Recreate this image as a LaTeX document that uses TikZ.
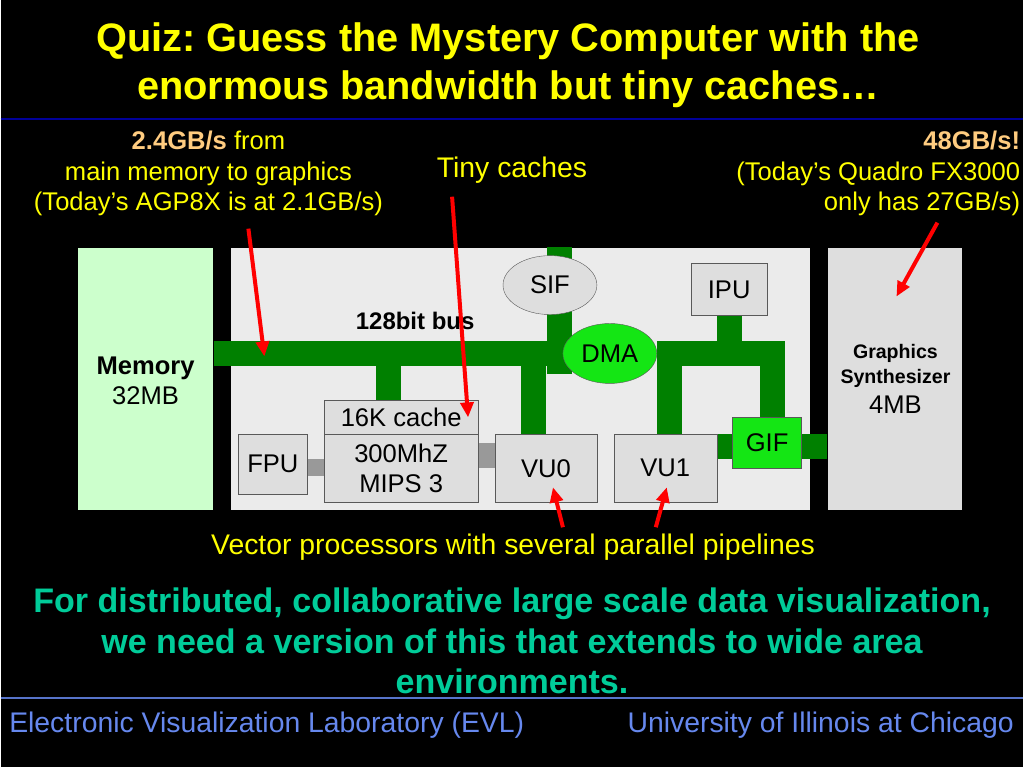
\documentclass[tikz,border=0pt]{standalone}
\usepackage{fontspec}
\setmainfont{Liberation Sans}
\usetikzlibrary{arrows.meta, shapes.geometric}
\frenchspacing

\definecolor{quizY}{RGB}{255,255,0}
\definecolor{rateO}{RGB}{255,204,128}
\definecolor{noteT}{RGB}{0,204,153}
\definecolor{footB}{RGB}{102,136,238}
\definecolor{busG}{RGB}{0,128,0}
\definecolor{unitG}{RGB}{20,230,20}
\definecolor{memG}{RGB}{204,255,204}

\pgfdeclarelayer{back}
\pgfdeclarelayer{wire}
\pgfsetlayers{back,wire,main}

\tikzstyle{panel}=[rectangle, inner sep=0pt, align=center, minimum height=263pt]
\tikzstyle{unit}=[rectangle, draw=black!65, fill=black!13, inner sep=0pt, font=\fontsize{25.6}{29}\selectfont]
\tikzstyle{blob}=[ellipse, draw=black!65, fill=black!13, inner sep=0pt, minimum width=94pt, font=\fontsize{25.6}{29}\selectfont]
\tikzstyle{bus}=[busG, line width=25pt, line join=miter]
\tikzstyle{link}=[black!40, line width=25pt]
\tikzstyle{pointer}=[red, line width=4pt, -{Triangle[length=15pt, width=13pt]}]
\tikzstyle{note}=[quizY, inner sep=0pt, font=\fontsize{25.6}{30.5}\selectfont]
\tikzstyle{bignote}=[quizY, inner sep=0pt, font=\fontsize{28.4}{32}\selectfont]

\begin{document}
\begin{tikzpicture}[x=1pt, y=-1pt]
	% Memory, chip and graphics synthesizer on the slide background
	\begin{pgfonlayer}{back}
		\fill[black] (0,0) rectangle (1024,768);
		\node[panel, fill=memG, minimum width=136pt] (mem) at (145,379.5) {};
		\node[panel, fill=black!8, minimum width=579pt] (chip) at (520.5,379.5) {};
		\node[panel, fill=black!13, minimum width=135pt] (gs) at (895.5,379.5) {};
	\end{pgfonlayer}
	\draw[blue!60!black, line width=1.5pt] (0,119) -- (1024,119);
	\draw[footB!85!black, line width=1.5pt] (0,699) -- (1024,699);

	\node[quizY, align=center, font=\bfseries\fontsize{39.8}{48}\selectfont] (title) at (508,65)
		{Quiz: Guess the Mystery Computer with the\\enormous bandwidth but tiny caches…};

	% Annotations
	\node[note, align=center] (agp) at (208,174)
		{\textbf{\textcolor{rateO}{2.4GB/s}} from\\main memory to graphics\\(Today’s AGP8X is at 2.1GB/s)};
	\node[bignote] (tiny) at (512,170) {Tiny caches};
	\node[note, align=right, anchor=east] (quadro) at (1021,174)
		{\textbf{\textcolor{rateO}{48GB/s!}}\\(Today’s Quadro FX3000\\only has 27GB/s)};

	\node[align=center, font=\fontsize{25.6}{30}\selectfont] (memlabel) at (145,381) {\textbf{Memory}\\32MB};
	\node[align=center, font=\bfseries\fontsize{19.6}{25}\selectfont] (gslabel) at (896,366) {Graphics\\Synthesizer};
	\node[font=\fontsize{25.6}{30}\selectfont] (gssize) at (896,405) {4MB};

	% Units on the chip
	\node[blob, minimum height=59pt] (sif) at (550,285.5) {SIF};
	\node[blob, minimum height=60pt, fill=unitG] (dma) at (610,354) {DMA};
	\node[unit, minimum width=77pt, minimum height=52pt] (ipu) at (729.5,290) {IPU};
	\node[unit, minimum width=154pt, minimum height=34pt] (cache) at (401,418) {16K cache};
	\node[unit, minimum width=154pt, minimum height=68pt, align=center, font=\fontsize{25.6}{30}\selectfont] (mips) at (401,469) {300MhZ\\MIPS 3};
	\node[unit, minimum width=69pt, minimum height=60pt] (fpu) at (272.5,465) {FPU};
	\node[unit, minimum width=102pt, minimum height=68pt] (vu0) at (546,469) {VU0};
	\node[unit, minimum width=103pt, minimum height=68pt] (vu1) at (665.5,469) {VU1};
	\node[unit, minimum width=69pt, minimum height=51pt, fill=unitG] (gif) at (767.5,443.5) {GIF};
	\node[font=\bfseries\fontsize{24}{28}\selectfont] (buslabel) at (415,321) {128bit bus};

	% Buses
	\begin{pgfonlayer}{wire}
		\draw[bus] (mem.east |- dma.west) -- ([xshift=9.5pt]sif.center |- dma.west);
		\draw[bus] ([xshift=9.5pt]sif.center |- chip.north) -- ([xshift=9.5pt]sif.center |- 0,375);
		\foreach \u in {cache, vu0}{ \draw[bus] ([xshift=-12.5pt]\u.north) -- ([xshift=-12.5pt]\u.north |- dma.west); }
		\draw[bus] (dma.east) -- ([xshift=5pt]gif.north |- dma.east) -- ([xshift=5pt]gif.north);
		\draw[bus] (ipu.south) -- (ipu.south |- dma.east);
		\draw[bus] ([xshift=4.5pt]vu1.north) -- ([xshift=4.5pt]vu1.north |- dma.east);
		\draw[bus] ([yshift=-4pt]gif.west) -- ([yshift=-4pt]gif.west -| vu1.east);
		\draw[bus] ([yshift=-4pt]gif.east) -- ([yshift=-4pt]gif.east -| gs.west);
		\draw[link, line width=17pt] ([yshift=-3.5pt]fpu.east) -- ([yshift=-3.5pt]fpu.east -| mips.west);
		\draw[link] ([yshift=12.5pt]vu0.west) -- ([yshift=12.5pt]vu0.west -| mips.east);
	\end{pgfonlayer}

	% Pointers
	\coordinate (agpTail) at (248,229);
	\coordinate (tinyTail) at (452,197);
	\coordinate (quadroTail) at (938,223);
	\coordinate (vu0Tail) at (563,528);
	\coordinate (vu1Tail) at (656,528);
	\draw[pointer] (agpTail) -- (264,357);
	\draw[pointer] (tinyTail) -- (468,418);
	\draw[pointer] (quadroTail) -- (897,297);
	\draw[pointer] (vu0Tail) -- (553,488);
	\draw[pointer] (vu1Tail) -- (667,488);

	\node[bignote] (vector) at (513,548) {Vector processors with several parallel pipelines};

	\node[noteT, align=center, font=\bfseries\fontsize{34.1}{40.5}\selectfont] (wide) at (512,642)
		{For distributed, collaborative large scale data visualization,\\we need a version of this that extends to wide area\\environments.};

	% Footer
	\node[footB, anchor=west, font=\fontsize{28.4}{32}\selectfont] (evl) at (5,726) {Electronic Visualization Laboratory (EVL)};
	\node[footB, anchor=east, font=\fontsize{28.4}{32}\selectfont] (uic) at (1018,726) {University of Illinois at Chicago};
\end{tikzpicture}
\end{document}
